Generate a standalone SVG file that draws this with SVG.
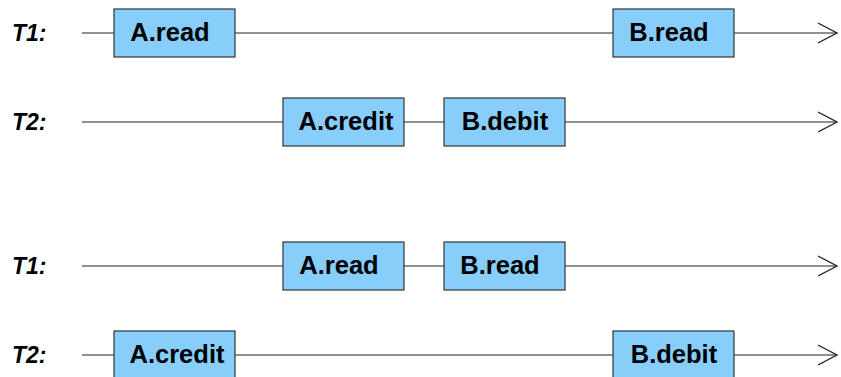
<svg xmlns="http://www.w3.org/2000/svg" width="841" height="377" viewBox="0 0 841 377">
<defs>
<marker id="arr" markerWidth="20" markerHeight="22" refX="19" refY="11" orient="auto" markerUnits="userSpaceOnUse">
<path d="M0,1 L19,11 L0,21" fill="none" stroke="#222" stroke-width="1.2"/>
</marker>
<style>
.ln{stroke:#222;stroke-width:1.2;fill:none}
.bx{fill:#87CEFA;stroke:#333;stroke-width:1.2}
.lb{font-family:"Liberation Sans",Arial,sans-serif;font-weight:bold;font-size:25.5px;fill:#000;text-anchor:middle}
.tl{font-family:"Liberation Sans",Arial,sans-serif;font-weight:bold;font-style:italic;font-size:23px;fill:#000}
</style>
</defs>
<g id="connectors">
<line class="ln" x1="82" y1="33" x2="837" y2="33" marker-end="url(#arr)"/>
<line class="ln" x1="82" y1="122" x2="837" y2="122" marker-end="url(#arr)"/>
<line class="ln" x1="82" y1="266" x2="837" y2="266" marker-end="url(#arr)"/>
<line class="ln" x1="82" y1="355" x2="837" y2="355" marker-end="url(#arr)"/>
</g>
<g id="labels">
<text class="tl" x="12" y="41">T1:</text>
<text class="tl" x="12" y="130">T2:</text>
<text class="tl" x="12" y="274">T1:</text>
<text class="tl" x="12" y="363">T2:</text>
</g>
<g id="n1"><rect class="bx" x="114" y="9" width="121" height="48"/><text class="lb" x="170" y="41">A.read</text></g>
<g id="n2"><rect class="bx" x="613" y="9" width="121" height="48"/><text class="lb" x="669" y="41">B.read</text></g>
<g id="n3"><rect class="bx" x="283" y="98" width="121" height="48"/><text class="lb" x="346" y="130">A.credit</text></g>
<g id="n4"><rect class="bx" x="444" y="98" width="121" height="48"/><text class="lb" x="505" y="130">B.debit</text></g>
<g id="n5"><rect class="bx" x="283" y="242" width="121" height="48"/><text class="lb" x="339" y="274">A.read</text></g>
<g id="n6"><rect class="bx" x="444" y="242" width="121" height="48"/><text class="lb" x="500" y="274">B.read</text></g>
<g id="n7"><rect class="bx" x="114" y="331" width="121" height="48"/><text class="lb" x="177" y="363">A.credit</text></g>
<g id="n8"><rect class="bx" x="613" y="331" width="121" height="48"/><text class="lb" x="674" y="363">B.debit</text></g>
</svg>
